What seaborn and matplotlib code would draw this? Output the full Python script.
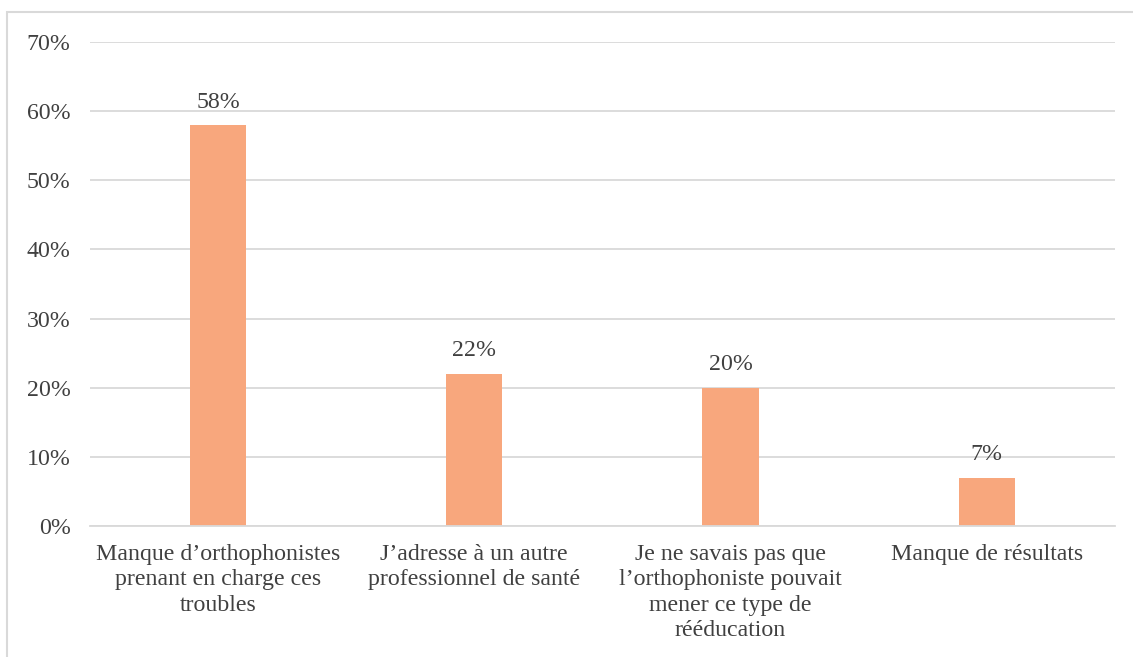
import matplotlib
matplotlib.use('Agg')
import pandas as pd
import matplotlib.pyplot as plt
import seaborn as sns
from matplotlib.patches import Rectangle
from matplotlib.ticker import PercentFormatter

categories = [
    "Manque d\u2019orthophonistes\nprenant en charge ces\ntroubles",
    "J\u2019adresse \u00e0 un autre\nprofessionnel de sant\u00e9",
    "Je ne savais pas que\nl\u2019orthophoniste pouvait\nmener ce type de\nr\u00e9\u00e9ducation",
    "Manque de r\u00e9sultats",
]
values = [58, 22, 20, 7]
bar_labels = ["58%", "22%", "20%", "7%"]

df = pd.DataFrame({"reason": categories, "pct": values})

sns.set_style("white")
plt.rcParams['font.family'] = ['Liberation Serif', 'DejaVu Serif']
text_color = '#404040'
fs = 17.2

fig = plt.figure(figsize=(11.33, 6.57), dpi=100)
ax = fig.add_axes([0.0794, 0.1994, 0.9046, 0.7366])

sns.barplot(data=df, x="reason", y="pct", color="#F8A77D", saturation=1,
            width=0.22, linewidth=0, ax=ax)

ax.set_ylim(0, 70)
ax.set_yticks(range(0, 71, 10))
ax.yaxis.set_major_formatter(PercentFormatter(decimals=0))
ax.grid(axis='y', color='#D9D9D9', linewidth=1.3)
ax.set_axisbelow(True)
for s in ['top', 'right', 'left']:
    ax.spines[s].set_visible(False)
ax.spines['bottom'].set_color('#D9D9D9')
ax.spines['bottom'].set_linewidth(1.3)
ax.set_xlabel('')
ax.set_ylabel('')
ax.tick_params(axis='both', length=0, labelsize=fs, labelcolor=text_color)
ax.tick_params(axis='y', pad=14)
ax.tick_params(axis='x', pad=13)
for t in ax.get_xticklabels():
    t.set_linespacing(1.27)
ax.set_xlim(-0.5, 3.5)

for i, (v, lab) in enumerate(zip(values, bar_labels)):
    ax.annotate(lab, (i, v), xytext=(0, 9), textcoords='offset points',
                ha='center', va='bottom', fontsize=fs, color=text_color)

fig.patches.append(Rectangle((0.0062, -0.05), 1.1, 0.9817 + 0.05,
                             transform=fig.transFigure, fill=False,
                             edgecolor='#D9D9D9', linewidth=1.5))

fig.savefig("out.png", dpi=100, facecolor='white')
